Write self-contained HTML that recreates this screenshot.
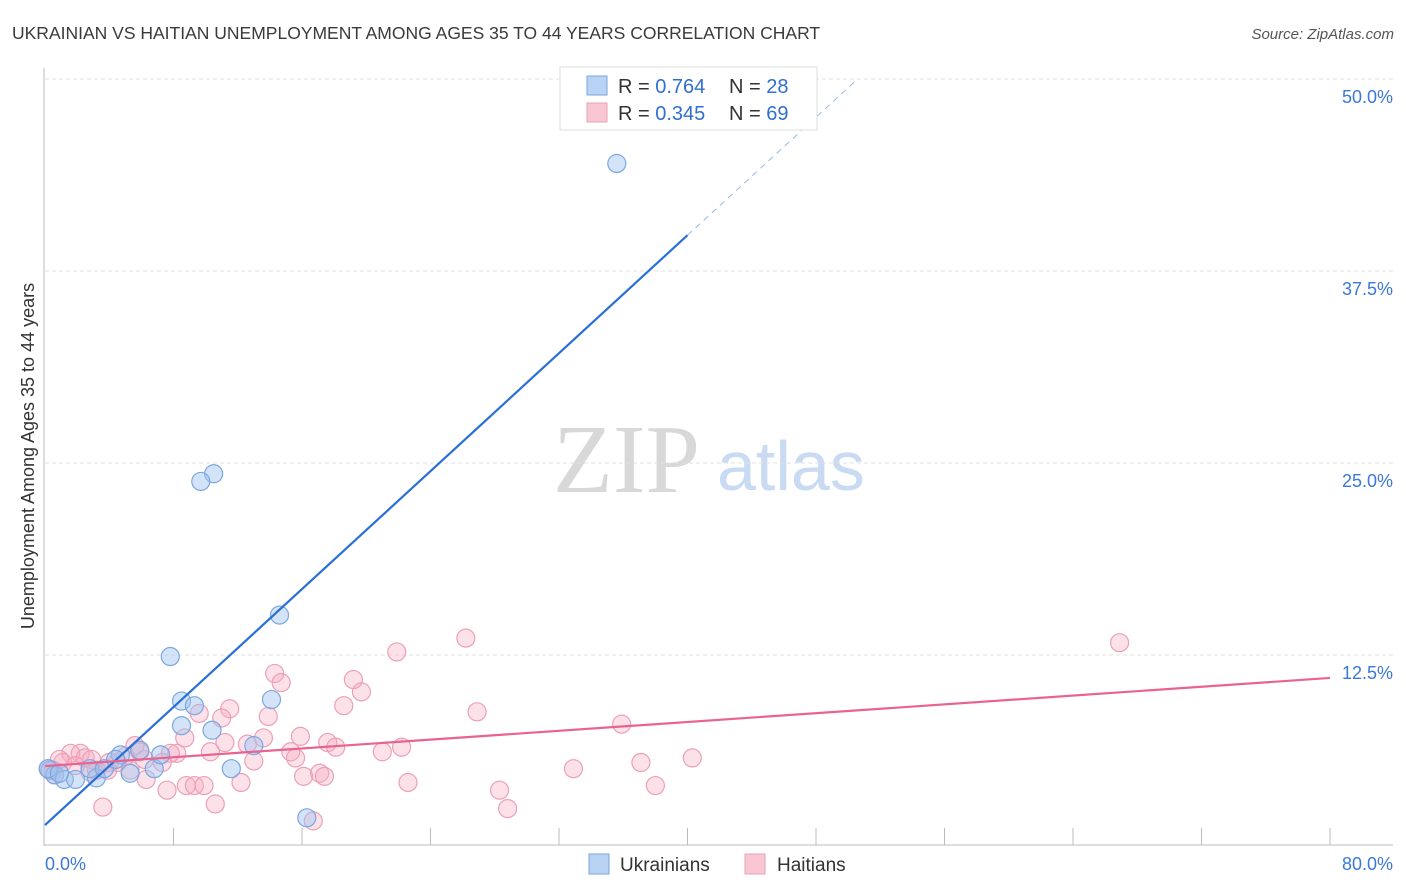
<!DOCTYPE html>
<html><head><meta charset="utf-8"><style>
body{margin:0;background:#fff;font-family:"Liberation Sans",sans-serif}
svg{display:block}
</style></head><body>
<svg id="c" width="1406" height="892">
<text x="12" y="39" font-size="17.5" fill="#3a3a3a">UKRAINIAN VS HAITIAN UNEMPLOYMENT AMONG AGES 35 TO 44 YEARS CORRELATION CHART</text>
<text x="1394" y="39" font-size="15" fill="#555" font-style="italic" text-anchor="end">Source: ZipAtlas.com</text>
<text x="553" y="492" font-size="98" fill="#d8d8d8" font-family="Liberation Serif,serif">ZIP</text>
<text x="717" y="490" font-size="70" fill="#c9daf3">atlas</text>
<text transform="translate(34,456) rotate(-90)" font-size="18" fill="#333" text-anchor="middle">Unemployment Among Ages 35 to 44 years</text>
<g id="grid"></g><g id="marks"></g>
<g>
<rect x="560" y="67" width="257" height="63" fill="#fff" stroke="#ddd"/>
<rect x="587" y="76" width="20" height="19" fill="#b8d3f4" stroke="#7aa7e0"/>
<rect x="587" y="103" width="20" height="19" fill="#f9c6d4" stroke="#eba0b6"/>
<text x="618" y="93" font-size="20" fill="#333">R = <tspan fill="#2f6fd0">0.764</tspan></text>
<text x="729" y="93" font-size="20" fill="#333">N = <tspan fill="#2f6fd0">28</tspan></text>
<text x="618" y="120" font-size="20" fill="#333">R = <tspan fill="#2f6fd0">0.345</tspan></text>
<text x="729" y="120" font-size="20" fill="#333">N = <tspan fill="#2f6fd0">69</tspan></text>
</g>
<g>
<rect x="589" y="854" width="20" height="20" fill="#b8d3f4" stroke="#7aa7e0"/>
<text x="620" y="871" font-size="19" fill="#333">Ukrainians</text>
<rect x="745" y="854" width="20" height="20" fill="#f9c6d4" stroke="#eba0b6"/>
<text x="777" y="871" font-size="19" fill="#333">Haitians</text>
</g>
</svg>
<script>
const yTicks=[12.5,25,37.5,50];
const yTickLabels=["12.5%","25.0%","37.5%","50.0%"];
const xTickLabels=["0.0%","80.0%"];
const blueX=[35.6,10.5,9.7,14.6,7.8,8.5,9.3,14.1,8.5,10.4,11.6,13.0,16.3,0.3,0.6,1.2,1.9,3.2,2.8,3.7,4.7,5.3,5.9,6.8,7.2,4.4,0.2,0.9];
const blueY=[44.5,24.3,23.8,15.1,12.4,9.5,9.2,9.6,7.9,7.6,5.1,6.6,1.9,5.0,4.7,4.4,4.4,4.5,5.1,5.1,6.0,4.8,6.3,5.1,6.0,5.7,5.1,4.8];
const pinkX=[21.9,14.3,14.7,19.2,19.7,18.6,11.5,11.0,9.6,13.9,8.7,13.6,15.9,11.2,12.6,17.6,18.1,22.2,15.3,15.6,21.0,10.3,13.0,5.6,5.9,8.2,7.8,2.2,1.6,1.1,4.5,3.9,3.2,7.3,6.3,7.6,8.8,9.3,9.9,12.2,16.1,17.1,17.4,22.6,3.6,10.6,16.7,0.5,26.2,66.9,26.9,35.9,40.3,37.1,32.9,28.3,38.0,28.8,0.2,0.9,2.5,5.3,1.9,2.9,4.0,5.0,0.6,2.8,6.2];
const pinkY=[12.7,11.3,10.7,10.9,10.1,9.2,9.0,8.4,8.7,8.5,7.1,7.1,7.2,6.8,6.7,6.8,6.5,6.5,6.2,5.8,6.2,6.2,5.6,6.6,6.2,6.1,6.1,6.1,6.1,5.5,5.5,5.0,5.0,5.5,4.4,3.7,4.0,4.0,4.0,4.2,4.6,4.8,4.6,4.2,2.6,2.8,1.7,5.0,13.6,13.3,8.8,8.0,5.8,5.5,5.1,3.7,4.0,2.5,5.1,5.7,5.8,5.0,5.3,5.7,5.5,5.9,4.7,4.9,5.7];
const blueFit=[1.43,0.96];
const pinkFit=[5.27,0.0717];
const X=v=>45+v*1285/80, Y=v=>847-v*768/50;
const NS='http://www.w3.org/2000/svg';
function mk(p,t,a){const e=document.createElementNS(NS,t);for(const k in a)e.setAttribute(k,a[k]);p.appendChild(e);return e;}
const g=document.getElementById('grid'),m=document.getElementById('marks');
yTicks.forEach((t,i)=>{
 const l=mk(g,'line',{x1:45,x2:1393,y1:Y(t),y2:Y(t),stroke:'#e2e2e2','stroke-dasharray':'4,3'});
 
 
 const tx=mk(g,'text',{x:1393,y:Y(t)+24,'font-size':18,fill:'#3b78d8','text-anchor':'end'});
 tx.textContent=yTickLabels[i];
 
 
});
mk(g,'line',{x1:44,x2:44,y1:68,y2:846,stroke:'#bbb'});
mk(g,'line',{x1:44,x2:1393,y1:845,y2:845,stroke:'#bbb'});
for(let i=1;i<=10;i++){const tk=mk(g,'line',{x1:X(i*8),x2:X(i*8),y1:828,y2:845,stroke:'#bbb'});
 
 }
[[0,45,'start'],[80,1393,'end']].forEach((d,i)=>{const t=mk(g,'text',{x:d[1],y:870,'font-size':18,fill:'#3b78d8','text-anchor':d[2]});t.textContent=xTickLabels[i];
 
 });
pinkX.forEach((x,i)=>{const c=mk(m,'circle',{cx:X(x),cy:Y(pinkY[i]),r:9,fill:'rgba(245,170,192,0.35)',stroke:'#eba0b6','stroke-width':1.2});
 
 });
blueX.forEach((x,i)=>{const c=mk(m,'circle',{cx:X(x),cy:Y(blueY[i]),r:9,fill:'rgba(160,196,240,0.45)',stroke:'#7aa7e0','stroke-width':1.2});
 
 });
const bl=mk(m,'line',{x1:X(0),y1:Y(blueFit[0]),x2:X(40),y2:Y(blueFit[0]+40*blueFit[1]),stroke:'#2a6fd6','stroke-width':2.2});


const bd=mk(m,'line',{x1:X(40),y1:Y(blueFit[0]+40*blueFit[1]),x2:X(50.6),y2:Y(blueFit[0]+50.6*blueFit[1]),stroke:'#9bb8e0','stroke-width':1,'stroke-dasharray':'6,5'});


const pl=mk(m,'line',{x1:X(0),y1:Y(pinkFit[0]),x2:X(80),y2:Y(pinkFit[0]+80*pinkFit[1]),stroke:'#e8638f','stroke-width':2.2});


</script>
</body></html>
